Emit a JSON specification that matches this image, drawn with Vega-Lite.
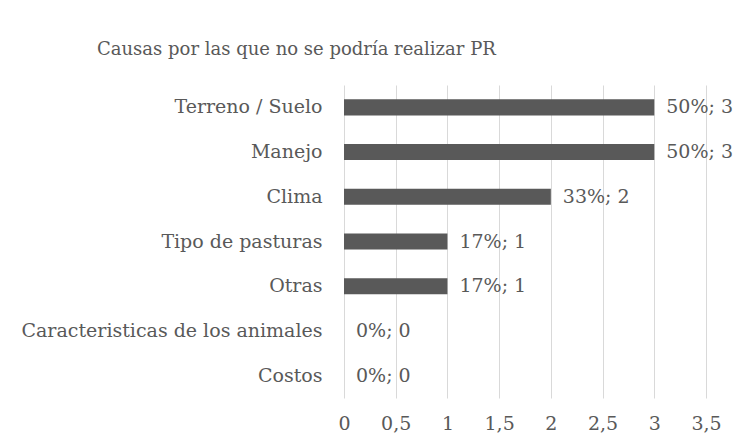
{
  "$schema": "https://vega.github.io/schema/vega-lite/v6.json",
  "autosize": {"type": "none"},
  "padding": {"left": 344, "top": 85, "right": 28, "bottom": 48},
  "width": 362,
  "height": 313,
  "background": "white",
  "title": {
    "text": "Causas por las que no se podría realizar PR",
    "anchor": "start",
    "frame": "group",
    "dx": -247,
    "offset": 12,
    "baseline": "alphabetic",
    "font": "DejaVu Serif",
    "fontSize": 18,
    "fontWeight": "normal",
    "color": "#595959"
  },
  "data": {
    "values": [
      {"causa": "Terreno / Suelo", "n": 3, "label": "50%; 3"},
      {"causa": "Manejo", "n": 3, "label": "50%; 3"},
      {"causa": "Clima", "n": 2, "label": "33%; 2"},
      {"causa": "Tipo de pasturas", "n": 1, "label": "17%; 1"},
      {"causa": "Otras", "n": 1, "label": "17%; 1"},
      {"causa": "Caracteristicas de los animales", "n": 0, "label": "0%; 0"},
      {"causa": "Costos", "n": 0, "label": "0%; 0"}
    ]
  },
  "encoding": {
    "y": {
      "field": "causa",
      "type": "nominal",
      "sort": null,
      "title": null,
      "scale": {"paddingInner": 0.64, "paddingOuter": 0.32},
      "axis": {
        "ticks": false,
        "domain": false,
        "labelPadding": 22,
        "labelFont": "DejaVu Serif",
        "labelFontSize": 19,
        "labelColor": "#595959",
        "labelLimit": 400
      }
    },
    "x": {
      "field": "n",
      "type": "quantitative",
      "title": null,
      "scale": {"domain": [0, 3.5], "nice": false},
      "axis": {
        "values": [0, 0.5, 1, 1.5, 2, 2.5, 3, 3.5],
        "labelExpr": "replace(format(datum.value, '~g'), '.', ',')",
        "ticks": false,
        "domain": false,
        "grid": true,
        "gridColor": "#d9d9d9",
        "gridWidth": 1,
        "labelPadding": 16,
        "labelFont": "DejaVu Serif",
        "labelFontSize": 19,
        "labelColor": "#595959",
        "labelFlush": false
      }
    }
  },
  "layer": [
    {"mark": {"type": "bar", "color": "#595959"}},
    {
      "mark": {
        "type": "text",
        "align": "left",
        "baseline": "middle",
        "dx": 12,
        "font": "DejaVu Serif",
        "fontSize": 19,
        "color": "#595959"
      },
      "encoding": {"text": {"field": "label"}}
    }
  ],
  "config": {"view": {"stroke": null}}
}
